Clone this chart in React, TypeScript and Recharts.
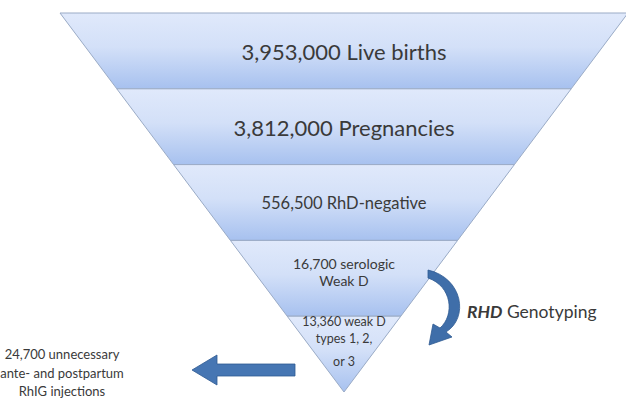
import React from 'react';
import { FunnelChart, Funnel, LabelList } from 'recharts';

// layers as drawn, widest on top
const layerNames = ['Live births', 'Pregnancies', 'RhD-negative', 'Serologic weak D', 'Weak D types 1-3'];
const layerWidths = [5, 4, 3, 2, 1];
const layerLines = [
  ['3,953,000 Live births'],
  ['3,812,000 Pregnancies'],
  ['556,500 RhD-negative'],
  ['16,700 serologic', 'Weak D'],
  ['13,360 weak D', 'types 1, 2,', 'or 3'],
];
const outcomeLines = ['24,700 unnecessary', 'ante- and postpartum', 'RhIG injections'];

const data = layerNames.map((name, i) => ({ name, value: layerWidths[i], idx: i }));

// per-layer label styling
const labelStyle = [
  { size: 22, lineGap: 0, dy: 0 },
  { size: 22, lineGap: 0, dy: 0 },
  { size: 16.5, lineGap: 0, dy: 0 },
  { size: 14, lineGap: 17, dy: -7 },
  { size: 12.5, lineGap: 17, dy: -16 },
];

const FONT = 'Lato, "Open Sans", sans-serif';
const TEXT = '#3a3a3a';
const ARROW = '#3f6ea9';

function LayerLabel(props: any) {
  const vb = props.viewBox || props;
  const i = props.index ?? 0;
  const w = vb.upperWidth ?? vb.width;
  const cx = vb.x + w / 2;
  const cy = vb.y + vb.height / 2;
  const st = labelStyle[i];
  const lines = layerLines[i] || [];
  const startY = cy + st.dy - ((lines.length - 1) * st.lineGap) / 2;
  return (
    <text
      x={cx}
      y={startY}
      textAnchor="middle"
      dominantBaseline="central"
      fontFamily={FONT}
      fontSize={st.size}
      fill={TEXT}
    >
      {lines.map((l, k) => (
        <tspan key={k} x={cx} dy={k === 0 ? 0 : k === 2 ? st.lineGap + 6 : st.lineGap}>
          {l}
        </tspan>
      ))}
    </text>
  );
}

export default function App() {
  return (
    <div
      style={{
        position: 'absolute',
        left: 0,
        top: 0,
        width: 626,
        height: 409,
        overflow: 'hidden',
        background: '#fff',
      }}
    >
      <FunnelChart width={630} height={409} margin={{ top: 13, left: 60, right: 2, bottom: 17 }}>
        <defs>
          <linearGradient id="bandGrad" x1="0" y1="0" x2="0" y2="1">
            <stop offset="0%" stopColor="#e0e9fb" />
            <stop offset="45%" stopColor="#d3e0f8" />
            <stop offset="100%" stopColor="#a7c1ef" />
          </linearGradient>
        </defs>
        <Funnel
          dataKey="value"
          nameKey="name"
          data={data}
          fill="url(#bandGrad)"
          stroke="#9aabc6"
          strokeWidth={1}
          lastShapeType="triangle"
          isAnimationActive={false}
        >
          <LabelList dataKey="name" content={<LayerLabel />} />
        </Funnel>
      </FunnelChart>

      <svg
        width={626}
        height={409}
        style={{ position: 'absolute', left: 0, top: 0, pointerEvents: 'none' }}
      >
        {/* curved genotyping arrow */}
        <path
          d="M 428 270 C 463 278 469 318 446 332 L 452 337 L 429 345 L 433 324 L 440 328 C 455 315 452 286 428 278 Z"
          fill={ARROW}
          stroke="#2f5b92"
          strokeWidth={0.8}
        />
        <text x={467} y={318} fontFamily={FONT} fontSize={17.5} fill={TEXT}>
          <tspan fontWeight="bold" fontStyle="italic">RHD</tspan>
          <tspan> Genotyping</tspan>
        </text>

        {/* left arrow */}
        <path
          d="M 192 370 L 217 355 L 217 364 L 295 364 L 295 376 L 217 376 L 217 385 Z"
          fill="#4676b3"
          stroke="#2f5b92"
          strokeWidth={0.8}
        />
        <text textAnchor="middle" fontFamily={FONT} fontSize={13} fill={TEXT}>
          {outcomeLines.map((l, k) => (
            <tspan key={k} x={62} y={359 + k * 18.5}>
              {l}
            </tspan>
          ))}
        </text>
      </svg>
    </div>
  );
}
